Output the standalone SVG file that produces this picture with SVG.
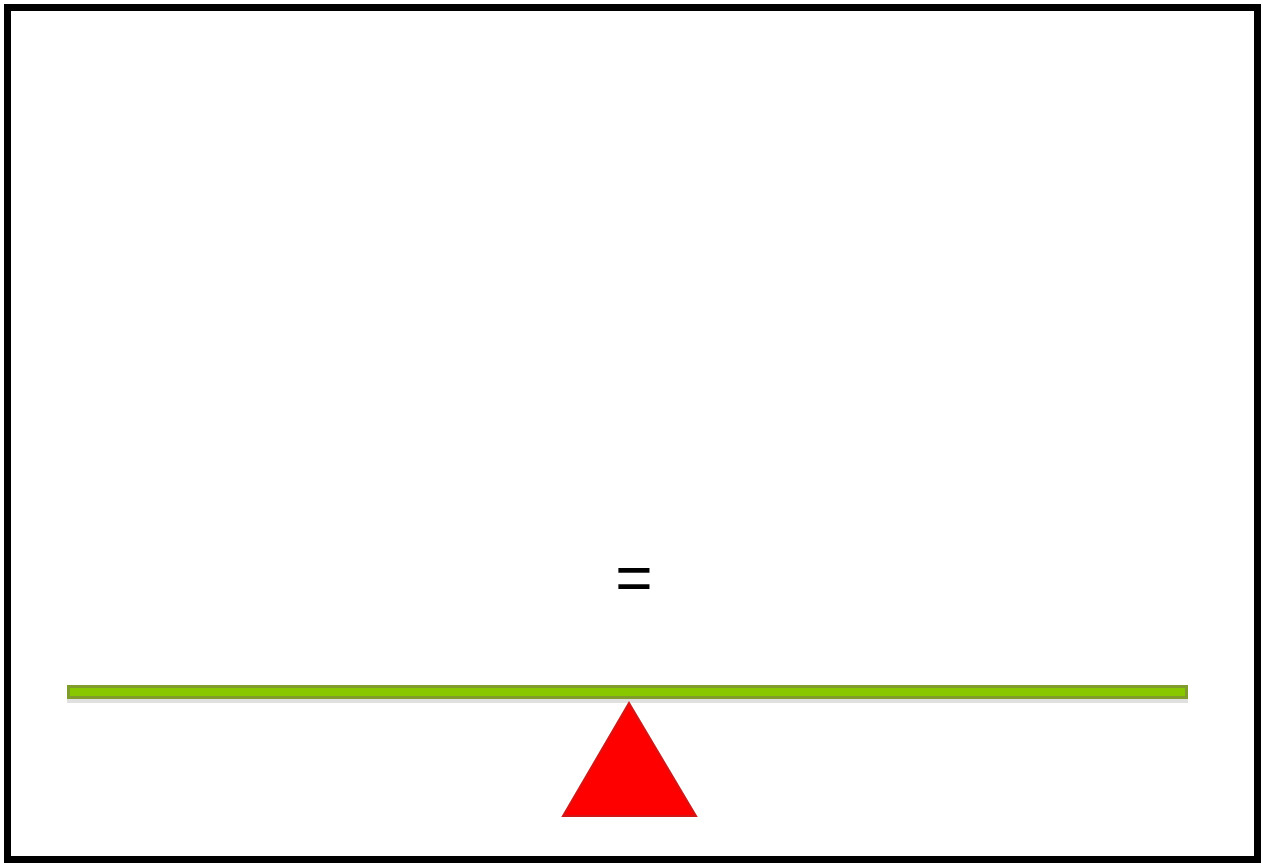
<svg xmlns="http://www.w3.org/2000/svg" width="1263" height="863" viewBox="0 0 1263 863">
<style>
.frame{fill:#ffffff;stroke:#000000;stroke-width:7}
.beam{fill:#88c800;stroke:#7f9c2c;stroke-width:3}
.shadow{fill:#e0e0e0}
.fulcrum{fill:#ff0000;stroke:#d01818;stroke-width:2;stroke-linejoin:miter}
.sign{font-family:"Liberation Sans",Arial,sans-serif;font-size:64px;fill:#000000;text-anchor:middle}
</style>
<rect class="frame" x="7.5" y="7.5" width="1250" height="852"/>
<g id="balance">
  <rect class="shadow" x="67" y="697" width="1121" height="6"/>
  <rect class="beam" x="68.5" y="686.5" width="1118" height="11"/>
</g>
<g id="fulcrum">
  <polygon class="fulcrum" points="629,703 696,816 563,816"/>
</g>
<g id="equals">
  <text class="sign" x="634" y="600">=</text>
</g>
</svg>
